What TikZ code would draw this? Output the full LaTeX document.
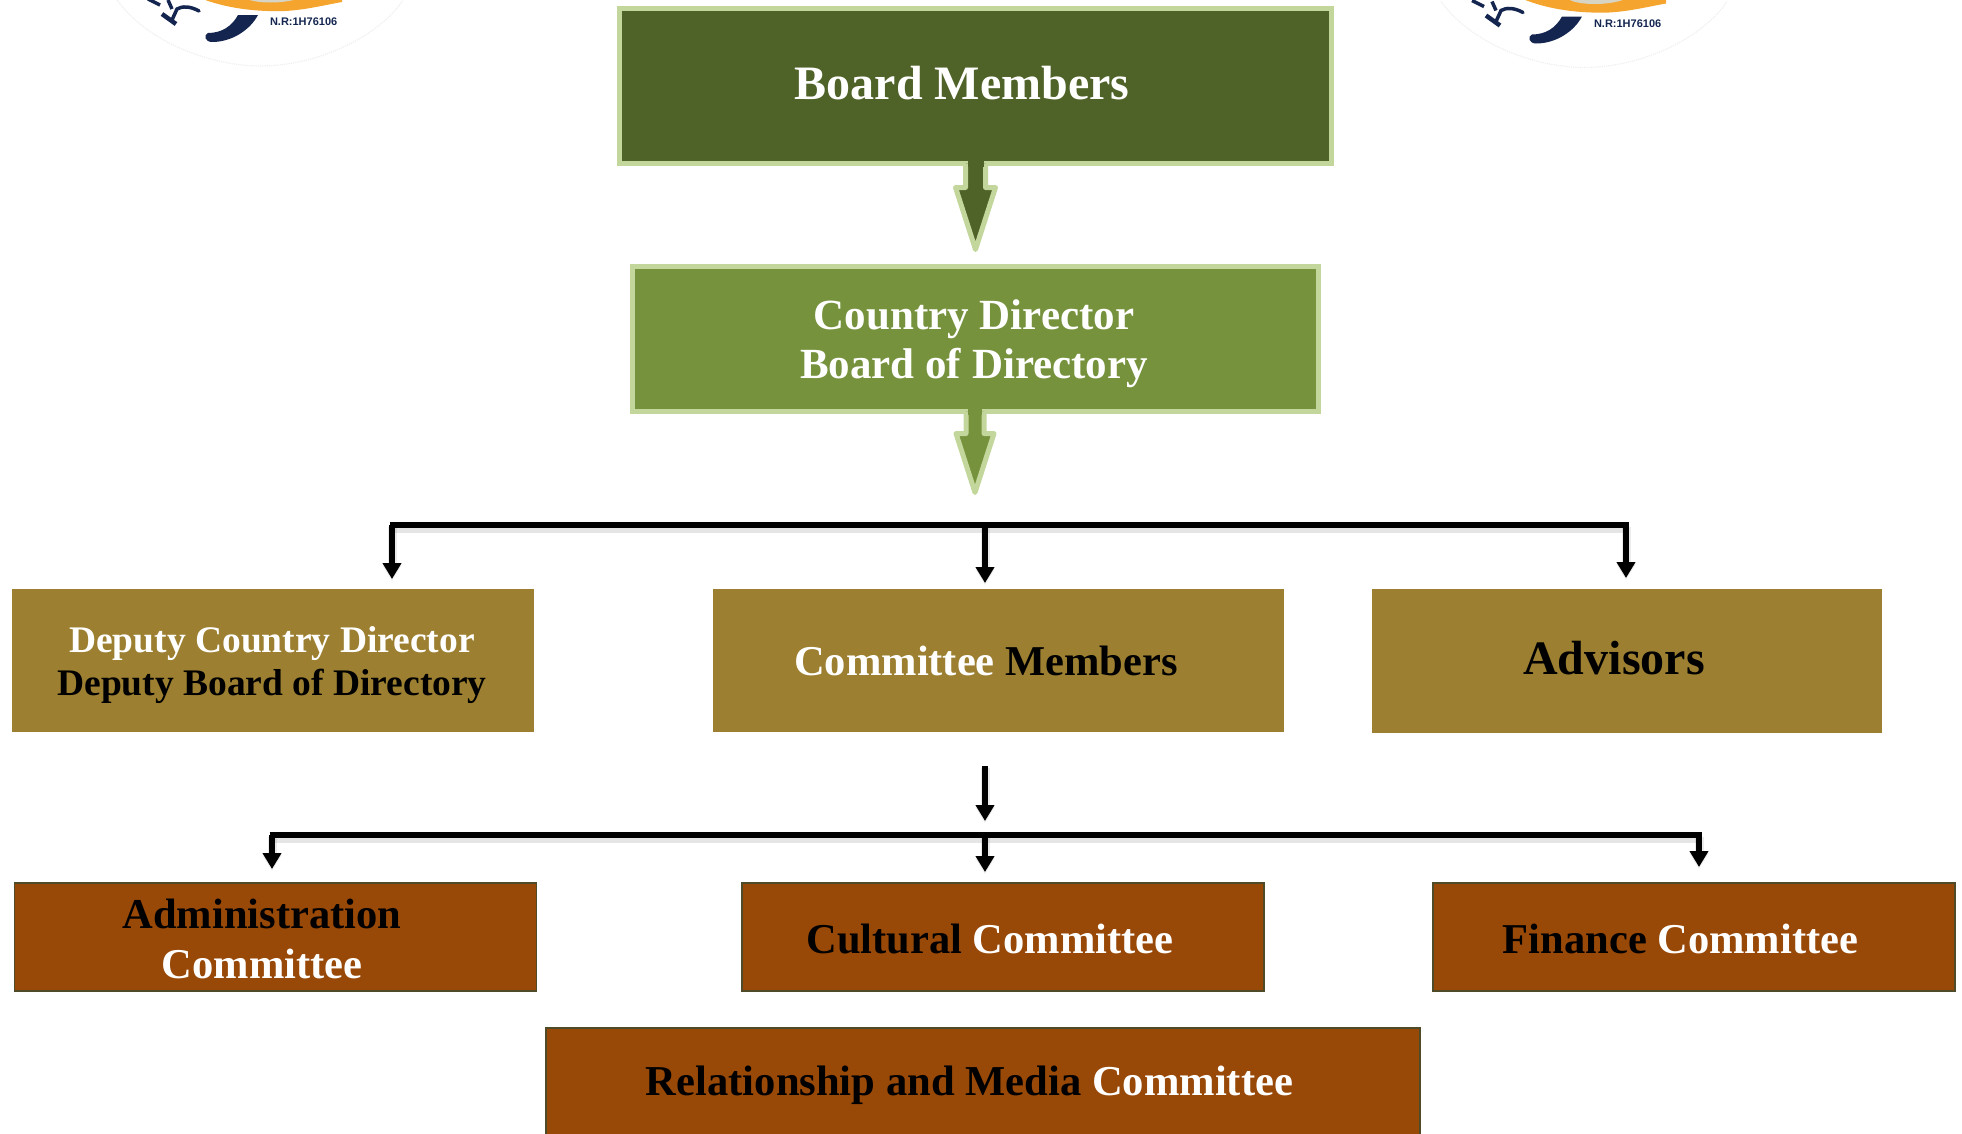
\documentclass[tikz,border=0pt]{standalone}
\usepackage{fontspec}
\setmainfont{Liberation Serif}
\newfontfamily\logofont{Liberation Sans}
\usetikzlibrary{arrows.meta}
\definecolor{boardfill}{HTML}{4F6228}
\definecolor{countryfill}{HTML}{76923C}
\definecolor{paleline}{HTML}{C3D69B}
\definecolor{goldfill}{HTML}{9C7F30}
\definecolor{brownfill}{HTML}{984807}
\definecolor{brownline}{HTML}{4F4A28}
\definecolor{navylogo}{HTML}{14264F}
\definecolor{orangelogo}{HTML}{F5A52E}
\definecolor{ringlogo}{HTML}{EFEFEF}
\definecolor{greylogo}{HTML}{D8D4C4}
\tikzset{
  x=1pt,y=-1pt,
  every node/.style={inner sep=0pt,outer sep=0pt},
  greenbox/.style={draw=paleline,line width=5pt,minimum width=#1},
  goldbox/.style={fill=goldfill,minimum width=#1},
  brownbox/.style={fill=brownfill,draw=brownline,line width=1.2pt,minimum width=#1},
  blocktip/.style={draw=paleline,fill=#1,line width=5pt,line join=round},
  softshadow/.style={preaction={draw=black,draw opacity=.10,line width=10pt,transform canvas={yshift=-3pt}}},
  bus/.style={draw=black,line width=5.3pt,softshadow},
  drop/.style={draw=black,line width=5.3pt,-{Triangle[length=16pt,width=18pt]},
    preaction={draw=black,draw opacity=.08,line width=9pt,transform canvas={yshift=-2pt}}},
  lbl/.style={font=\bfseries\fontsize{#1}{#1}\selectfont,align=center,anchor=center},
  ring/.style={draw=ringlogo,line width=1.2pt,densely dotted},
  logotext/.style={font=\logofont\bfseries\fontsize{11}{11}\selectfont,text=navylogo,anchor=west},
}
\begin{document}
\begin{tikzpicture}
\useasboundingbox (0,0) rectangle (1962,1133);
% logos (cut by the top edge)
\begin{scope}
\clip (0,0) rectangle (1962,1133);
\foreach \dx/\dy/\nm in {0/0/a,1324/1.5/b}{
\begin{scope}[shift={(\dx,\dy)}]
\draw[ring] (117,0) .. controls (150,45) and (215,66) .. (260,66) .. controls (320,66) and (380,35) .. (403,0);
\fill[orangelogo] (200,-2) .. controls (225,8) and (255,12) .. (285,11) .. controls (305,10) and (325,5) .. (342,2) -- (342,-2) -- cycle;
\fill[greylogo] (245,-2) .. controls (255,4) and (285,4) .. (300,-2) -- cycle;
\fill[navylogo] (238,15) -- (258,15) .. controls (250,30) and (232,42) .. (212,42) .. controls (205,42) and (203,35) .. (208,33) .. controls (222,33) and (232,26) .. (238,15) -- cycle;
\draw[navylogo,line width=4.5pt] (162,14) -- (176,24);
\draw[navylogo,line width=3.5pt,line cap=round] (199,11) .. controls (190,6) and (182,6) .. (177,9) -- (172,20);
\draw[navylogo,line width=3.5pt] (168,0) -- (172,9);
\draw[navylogo,line width=3.5pt] (148,-1) -- (160,5);
\node[logotext] (logotext\nm) at (270,22) {N.R:1H76106};
\end{scope}}
\end{scope}
% boxes
\node[greenbox=712pt,minimum height=155pt,fill=boardfill] (board) at (975.5,86) {};
\node[greenbox=686pt,minimum height=145pt,fill=countryfill] (country) at (975,339) {};
\node[goldbox=522pt,minimum height=143pt] (deputy) at (273,660.5) {};
\node[goldbox=571pt,minimum height=143pt] (committee) at (998.5,660.5) {};
\node[goldbox=510pt,minimum height=144pt] (advisors) at (1627,661) {};
\node[brownbox=522pt,minimum height=108pt] (admin) at (275.5,937) {};
\node[brownbox=522pt,minimum height=108pt] (cultural) at (1003,937) {};
\node[brownbox=522pt,minimum height=108pt] (finance) at (1694,937) {};
\node[brownbox=874pt,minimum height=120pt] (relation) at (983,1088) {};
% block arrows
\draw[blocktip=boardfill] ([xshift=-10pt]board.south) -- ++(0,24) -- ++(-10,0) -- ++(20,62) -- ++(20,-62) -- ++(-10,0) -- ++(0,-24);
\fill[boardfill] ([xshift=-8pt,yshift=3pt]board.south) rectangle ([xshift=8pt,yshift=-3pt]board.south);
\draw[blocktip=countryfill] ([xshift=-9pt]country.south) -- ++(0,22) -- ++(-10,0) -- ++(19,59) -- ++(19,-59) -- ++(-10,0) -- ++(0,-22);
\fill[countryfill] ([xshift=-7pt,yshift=3pt]country.south) rectangle ([xshift=7pt,yshift=-3pt]country.south);
% buses
\coordinate (busAl) at (392,525);
\coordinate (busAm) at (985,525);
\coordinate (busAr) at (1626,525);
\coordinate (tipAl) at (392,579);
\coordinate (tipAm) at (985,583);
\coordinate (tipAr) at (1626,578);
\coordinate (feedB) at (985,766);
\coordinate (feedBtip) at (985,821);
\coordinate (busBl) at (272,835);
\coordinate (busBm) at (985,835);
\coordinate (busBr) at (1699,835);
\coordinate (tipBl) at (272,869);
\coordinate (tipBm) at (985,872);
\coordinate (tipBr) at (1699,867);
\draw[bus] ([xshift=-2.5pt]busAl) -- ([xshift=2.5pt]busAr);
\draw[drop] (busAl) -- (tipAl);
\draw[drop] (busAm) -- (tipAm);
\draw[drop] (busAr) -- (tipAr);
\draw[drop] (feedB) -- (feedBtip);
\draw[bus] ([xshift=-2.5pt]busBl) -- ([xshift=2.5pt]busBr);
\draw[drop] (busBl) -- (tipBl);
\draw[drop] (busBm) -- (tipBm);
\draw[drop] (busBr) -- (tipBr);
% labels
\node[lbl=48,text=white] (tboard) at (962,83) {Board Members};
\node[lbl=43,text=white] (tcountry) at (974,343.5) {Country Director\\[6pt]Board of Directory};
\node[lbl=37.5,text=white] (tdeputy) at (272,665) {Deputy Country Director\\[5.5pt]\textcolor{black}{Deputy Board of Directory}};
\node[lbl=42.5,text=white] (tcommittee) at (986,661) {Committee \textcolor{black}{Members}};
\node[lbl=48,text=black] (tadvisors) at (1614,658.5) {Advisors};
\node[lbl=42.5,text=black] (tadmin) at (262,939) {Administration\\[7.5pt]\textcolor{white}{Committee}};
\node[lbl=42.5,text=black] (tcultural) at (990,939) {Cultural \textcolor{white}{Committee}};
\node[lbl=42.5,text=black] (tfinance) at (1680.5,939) {Finance \textcolor{white}{Committee}};
\node[lbl=42.6,text=black] (trelation) at (969.5,1085) {Relationship and Media \textcolor{white}{Committee}};
\end{tikzpicture}
\end{document}
